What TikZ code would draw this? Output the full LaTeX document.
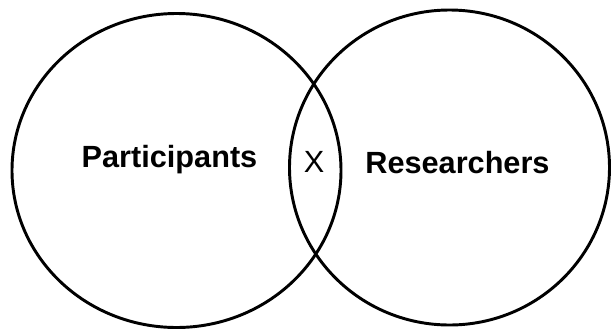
\documentclass[tikz,border=0pt]{standalone}
\usepackage{fontspec}
\setmainfont{Liberation Sans}
\usetikzlibrary{shapes.geometric, positioning}

\tikzset{
  setring/.style={draw, ellipse, line width=2.2pt, inner sep=0pt},
  setname/.style={anchor=base, font=\fontsize{23}{28}\selectfont\bfseries},
  overlapname/.style={anchor=base, font=\fontsize{23}{28}\selectfont}
}

\begin{document}
\begin{tikzpicture}[x=0.75pt, y=-0.75pt]
				\useasboundingbox (0, 0) rectangle (611, 329);

				% the two sets
				\node[setring, minimum width=246.75pt, minimum height=235.5pt] (partset) at (176.5, 170.5) {};
				\node[setring, minimum width=240pt, minimum height=236.25pt] (resset) at (449.5, 167.5) {};

				% labels
				\node[setname] (partlabel) at (169.5, 167) {Participants};
				\node[overlapname] (overlap) at (314, 172) {X};
				\node[setname] (reslabel) at (457.5, 173) {Researchers};
			\end{tikzpicture}
\end{document}
